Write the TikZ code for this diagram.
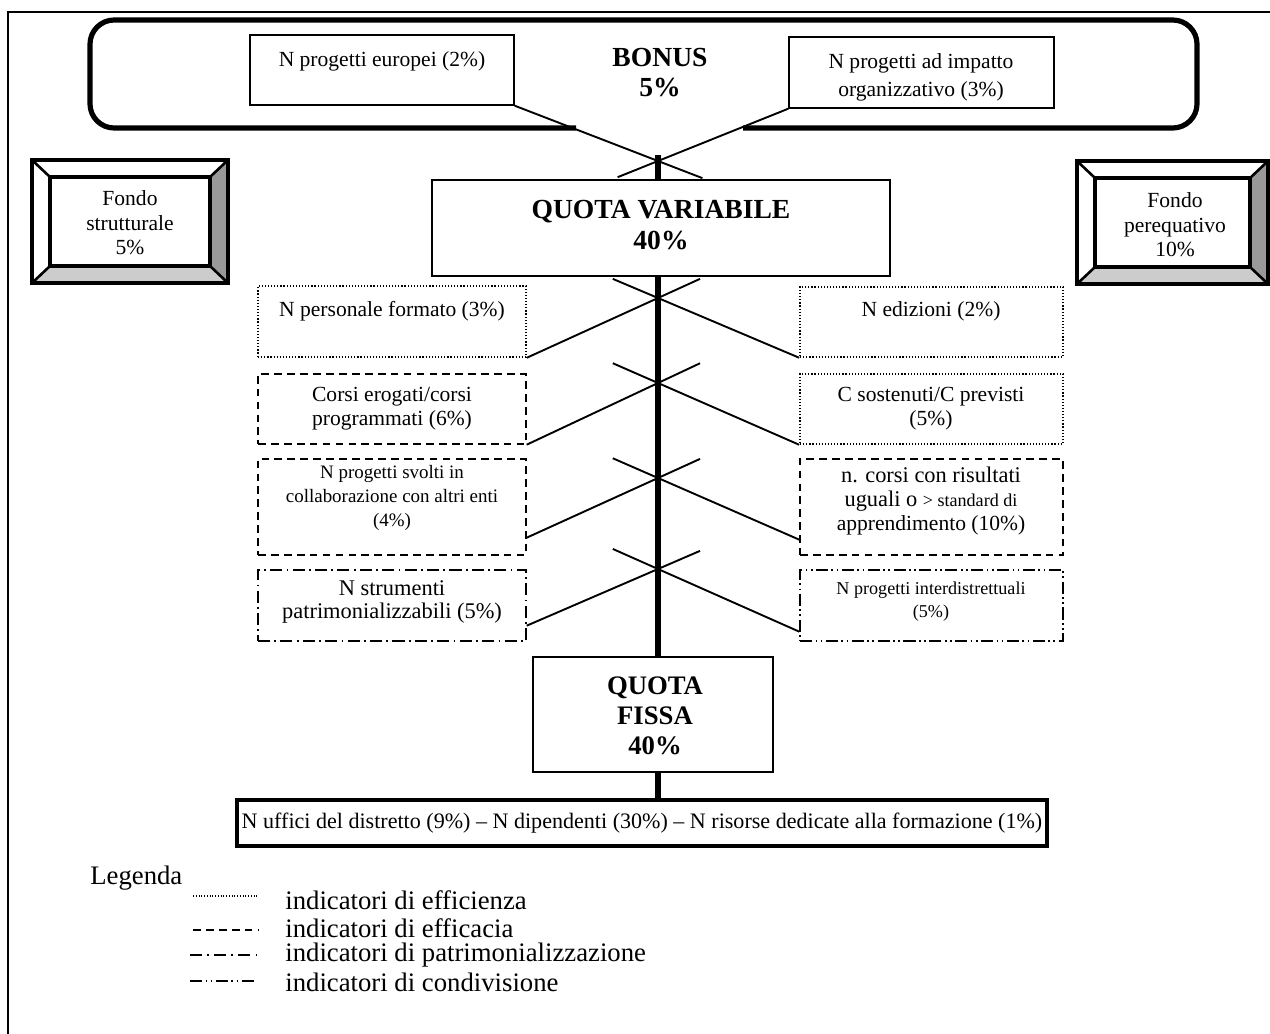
\documentclass[tikz,border=0pt]{standalone}
\usepackage{fontspec}
\setmainfont{Liberation Serif}
\usetikzlibrary{fit,calc}
\definecolor{bevdark}{gray}{0.6}
\definecolor{bevlight}{gray}{0.8}
\newcommand{\myfs}[2]{\fontsize{#1}{#2}\selectfont}
\tikzset{
 thinbox/.style={draw, line width=0.8pt, inner sep=0pt},
 solidbox/.style={thinbox},
 dotbox/.style={thinbox, line width=0.9pt, dash pattern=on 0.7pt off 1.1pt},
 dashbox/.style={thinbox, dash pattern=on 4.5pt off 3pt},
 dashdotbox/.style={thinbox, dash pattern=on 7pt off 2.5pt on 1pt off 2.5pt},
 dashdotdotbox/.style={thinbox, dash pattern=on 7pt off 2pt on 1pt off 2pt on 1pt off 2pt},
 conn/.style={line width=1.1pt},
 axisline/.style={line width=3pt},
 txt/.style={align=center, inner sep=0pt, font=\myfs{12.5}{13.9}},
 boldtxt/.style={align=center, inner sep=0pt, font=\bfseries\myfs{16}{18.5}},
 legtxt/.style={anchor=west, inner sep=0pt, font=\myfs{15.5}{18}},
 legline/.style={line width=0.9pt},
 bevout/.style={line width=2.4pt},
 bevin/.style={line width=1.8pt},
 bevdiag/.style={line width=1.5pt},
}
\begin{document}
\begin{tikzpicture}[x=0.58pt,y=-0.58pt]
\useasboundingbox (0,0) rectangle (1270,1034);
% outer frame
\draw[line width=1.2pt] (8,1034) -- (8,12) -- (1270,12);

% BONUS frame
\draw[line width=3pt, rounded corners=14pt] (576,128) -- (90,128) -- (90,20) -- (1197,20) -- (1197,128) -- (743,128);
\node[boldtxt, font=\bfseries\myfs{16}{17.4}] (bonus) at (660,73) {BONUS\\5\%};
\node[solidbox, fit={(250,35) (514,105)}] (eu) {};
\node[txt] (eut) at (382,61) {N progetti europei (2\%)};
\node[solidbox, fit={(789,37) (1054,108)}] (imp) {};
\node[txt, font=\myfs{12.5}{16.2}] (impt) at (921,77) {N progetti ad impatto\\organizzativo (3\%)};

% axis reference
\coordinate (ax) at (658,0);
\coordinate (stub) at (658,155);

% QUOTA VARIABILE
\node[solidbox, fit={(432,180) (890,276)}] (qv) {};
\node[boldtxt] (qvt) at (661,225) {QUOTA VARIABILE\\40\%};

% top crossing
\coordinate (x0) at (658,161);
\draw[conn] (eu.south east) -- ($(eu.south east)!1.31!(x0)$);
\draw[conn] (imp.south west) -- ($(imp.south west)!1.31!(x0)$);
\draw[axisline] (stub) -- (qv.north -| ax);

% Fondo strutturale (bevel)
\fill[white] (32,160) -- (228,160) -- (210,177) -- (50,177) -- cycle;
\fill[white] (32,160) -- (50,177) -- (50,266) -- (32,283) -- cycle;
\fill[bevdark] (228,160) -- (228,283) -- (210,266) -- (210,177) -- cycle;
\fill[bevlight] (32,283) -- (228,283) -- (210,266) -- (50,266) -- cycle;
\draw[bevdiag] (32,160) -- (50,177) (228,160) -- (210,177) (32,283) -- (50,266) (228,283) -- (210,266);
\draw[bevin] (50,177) rectangle (210,266);
\node[draw, bevout, inner sep=0pt, fit={(32,160) (228,283)}] (fs) {};
\node[txt, font=\myfs{12.5}{14.2}] (fst) at (130,223) {Fondo\\strutturale\\5\%};

% Fondo perequativo (bevel)
\fill[white] (1077,161) -- (1268,161) -- (1250,178) -- (1095,178) -- cycle;
\fill[white] (1077,161) -- (1095,178) -- (1095,267) -- (1077,284) -- cycle;
\fill[bevdark] (1268,161) -- (1268,284) -- (1250,267) -- (1250,178) -- cycle;
\fill[bevlight] (1077,284) -- (1268,284) -- (1250,267) -- (1095,267) -- cycle;
\draw[bevdiag] (1077,161) -- (1095,178) (1268,161) -- (1250,178) (1077,284) -- (1095,267) (1268,284) -- (1250,267);
\draw[bevin] (1095,178) rectangle (1250,267);
\node[draw, bevout, inner sep=0pt, fit={(1077,161) (1268,284)}] (fp) {};
\node[txt, font=\myfs{12.5}{14.2}] (fpt) at (1175,225) {Fondo\\perequativo\\10\%};

% Row 1
\node[dotbox, fit={(258,286) (526,357)}] (l1) {};
\node[txt] (l1t) at (392,311) {N personale formato (3\%)};
\node[dotbox, fit={(800,287) (1063,357)}] (r1) {};
\node[txt] (r1t) at (931,311) {N edizioni (2\%)};
% Row 2
\node[dashbox, fit={(258,374) (526,444)}] (l2) {};
\node[txt] (l2t) at (392,409) {Corsi erogati/corsi\\programmati (6\%)};
\node[dotbox, fit={(800,374) (1063,444)}] (r2) {};
\node[txt] (r2t) at (931,409) {C sostenuti/C previsti\\(5\%)};
% Row 3
\node[dashbox, fit={(258,459) (526,555)}] (l3) {};
\node[txt, font=\myfs{11}{13.9}] (l3t) at (392,498) {N progetti svolti in\\collaborazione con altri enti\\(4\%)};
\node[dashbox, fit={(800,459) (1063,555)}] (r3) {};
\node[txt] (r3t) at (931,501) {{\myfs{13}{13.9}n. corsi con risultati}\\{\myfs{13}{13.9}uguali o} {\myfs{10.5}{13.9}> standard di}\\apprendimento (10\%)};
% Row 4
\node[dashdotbox, fit={(258,570) (526,641)}] (l4) {};
\node[txt, font=\myfs{13}{13.4}] (l4t) at (392,602) {N strumenti\\patrimonializzabili (5\%)};
\node[dashdotdotbox, fit={(800,570) (1063,641)}] (r4) {};
\node[txt, font=\myfs{10.5}{13.4}] (r4t) at (931,602) {N progetti interdistrettuali\\(5\%)};

% crossings
\coordinate (x1) at (658,298);
\coordinate (x2) at (658,383);
\coordinate (x3) at (658,478);
\coordinate (x4) at (658,569);
\coordinate (l3s) at ($(l3.south east)+(0,-18)$);
\coordinate (r3s) at ($(r3.south west)+(0,-16)$);
\coordinate (l4s) at ($(l4.south east)+(0,-16)$);
\coordinate (r4s) at ($(r4.south west)+(0,-10)$);
\draw[conn] (l1.south east) -- ($(l1.south east)!1.32!(x1)$);
\draw[conn] (r1.south west) -- ($(r1.south west)!1.32!(x1)$);
\draw[conn] (l2.south east) -- ($(l2.south east)!1.32!(x2)$);
\draw[conn] (r2.south west) -- ($(r2.south west)!1.32!(x2)$);
\draw[conn] (l3s) -- ($(l3s)!1.32!(x3)$);
\draw[conn] (r3s) -- ($(r3s)!1.32!(x3)$);
\draw[conn] (l4s) -- ($(l4s)!1.32!(x4)$);
\draw[conn] (r4s) -- ($(r4s)!1.32!(x4)$);

% QUOTA FISSA
\node[draw, line width=1.1pt, inner sep=0pt, fit={(533,657) (773,772)}] (qf) {};
\node[boldtxt, font=\bfseries\myfs{15.5}{17.4}] (qft) at (655,716) {QUOTA\\FISSA\\40\%};
\draw[axisline] (qv.south -| ax) -- (qf.north -| ax);

% base box
\node[draw, line width=2pt, inner sep=0pt, fit={(237,800) (1047,846)}] (base) {};
\node[txt, font=\myfs{12.8}{14}] (baset) at (642,823) {N uffici del distretto (9\%) -- N dipendenti (30\%) -- N risorse dedicate alla formazione (1\%)};
\draw[axisline] (qf.south -| ax) -- (base.north -| ax);

% legend
\node[legtxt] (leg) at (90,878) {Legenda};
\node[legtxt] (lg1) at (285,900) {indicatori di efficienza};
\node[legtxt] (lg2) at (285,928) {indicatori di efficacia};
\node[legtxt] (lg3) at (285,955) {indicatori di patrimonializzazione};
\node[legtxt] (lg4) at (285,982) {indicatori di condivisione};
\draw[legline, dash pattern=on 0.6pt off 1pt] (193,896) -- (257,896);
\draw[legline, dash pattern=on 4.5pt off 3pt] (193,930) -- (258,930);
\draw[legline, dash pattern=on 7pt off 3pt on 1pt off 3pt] (190,955) -- (256,955);
\draw[legline, dash pattern=on 7pt off 2pt on 1pt off 2pt on 1pt off 2pt] (190,981) -- (256,981);
\end{tikzpicture}
\end{document}
